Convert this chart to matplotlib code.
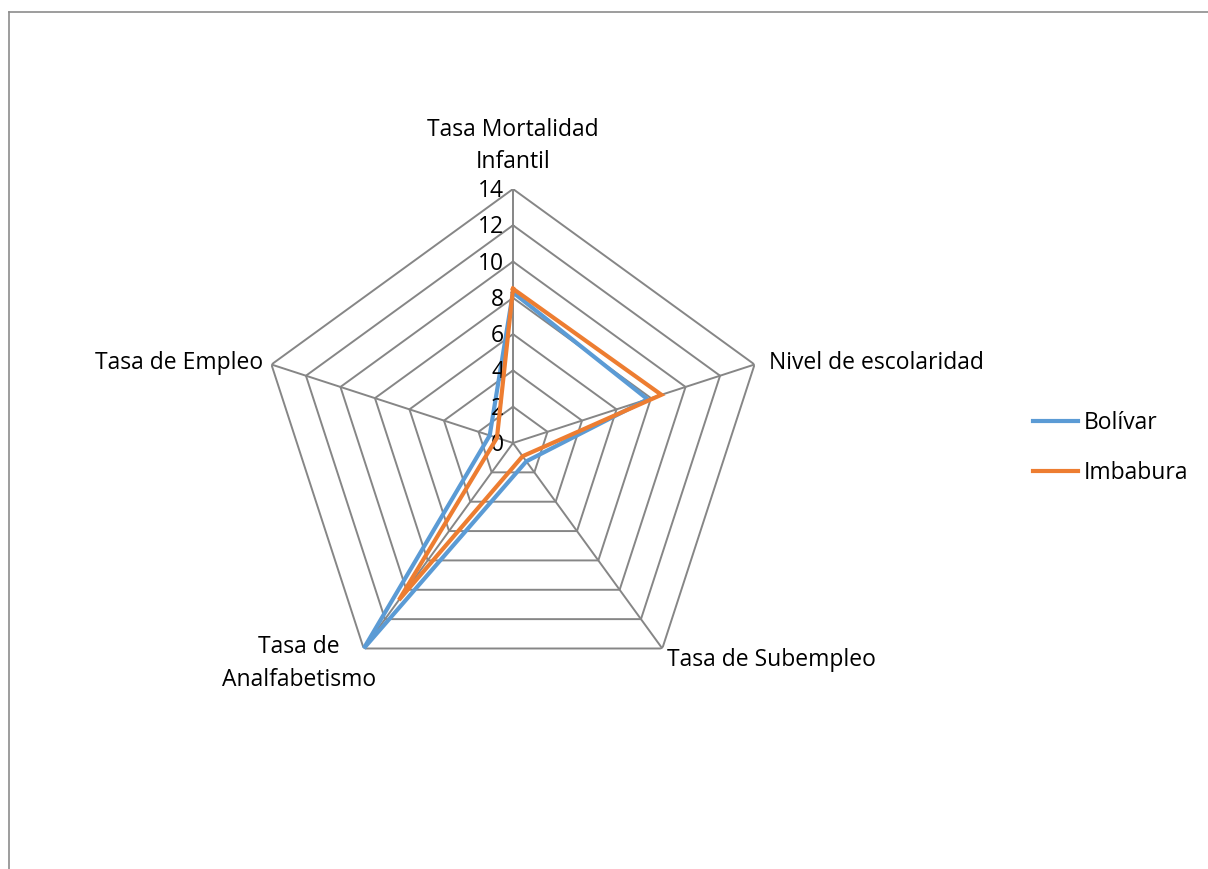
import numpy as np
import matplotlib
matplotlib.use("Agg")
import matplotlib.pyplot as plt
from matplotlib.lines import Line2D
from matplotlib.transforms import offset_copy

categories = ["Tasa Mortalidad\nInfantil", "Nivel de escolaridad", "Tasa de Subempleo",
              "Tasa de\nAnalfabetismo", "Tasa de Empleo"]
bolivar = [8.3, 7.8, 1.25, 14.0, 1.35]
imbabura = [8.5, 8.6, 0.9, 10.7, 0.93]
series_names = ["Bolívar", "Imbabura"]
r_ticks = [0, 2, 4, 6, 8, 10, 12, 14]

plt.rcParams['font.family'] = ['Open Sans', 'DejaVu Sans']

W, H = 1208, 869
fig = plt.figure(figsize=(W / 100, H / 100), dpi=100)
cx, cy, R = 513, 443, 254
ax = fig.add_axes([(cx - R) / W, (H - cy - R) / H, 2 * R / W, 2 * R / H], projection='polar')
ax.set_theta_offset(np.pi / 2)
ax.set_theta_direction(-1)
ax.set_ylim(0, 14)
ax.grid(False)
ax.spines['polar'].set_visible(False)
ax.set_xticks([])
ax.set_yticks([])
ax.patch.set_alpha(0)

n = len(categories)
theta = np.linspace(0, 2 * np.pi, n, endpoint=False)
gc = '#868686'
for r in r_ticks[1:]:
    ax.plot(np.append(theta, theta[0]), [r] * (n + 1), color=gc, lw=1.4, zorder=1)
for t in theta:
    ax.plot([t, t], [0, 14], color=gc, lw=1.4, zorder=1)

ax.plot(np.append(theta, theta[0]), bolivar + [bolivar[0]], color='#5B9BD5', lw=3.0,
        label=series_names[0], zorder=3, solid_joinstyle='miter')
ax.plot(np.append(theta, theta[0]), imbabura + [imbabura[0]], color='#ED7D31', lw=3.0,
        label=series_names[1], zorder=4, solid_joinstyle='miter')

fs = 16.5
tr = offset_copy(ax.transData, fig=fig, x=-9, y=-2, units='dots')
for r in r_ticks:
    ax.text(0, r, str(r), transform=tr, ha='right', va='center', fontsize=fs, color='#000000')

ax.text(theta[0], 14, categories[0], transform=offset_copy(ax.transData, fig=fig, x=0, y=15, units='dots'),
        ha='center', va='bottom', fontsize=fs, linespacing=1.45)
ax.text(theta[1], 14, categories[1], transform=offset_copy(ax.transData, fig=fig, x=14, y=2, units='dots'),
        ha='left', va='center', fontsize=fs)
ax.text(theta[2], 14, categories[2], transform=offset_copy(ax.transData, fig=fig, x=5, y=-12, units='dots'),
        ha='left', va='center', fontsize=fs)
ax.text(theta[3], 14, categories[3], transform=offset_copy(ax.transData, fig=fig, x=-65, y=-15, units='dots'),
        ha='center', va='center', fontsize=fs, linespacing=1.45)
ax.text(theta[4], 14, categories[4], transform=offset_copy(ax.transData, fig=fig, x=-8, y=2, units='dots'),
        ha='right', va='center', fontsize=fs)

leg = fig.legend(loc='center left', bbox_to_anchor=(1012 / W, 1 - 448 / H), frameon=False,
                 fontsize=fs, handlelength=2.0, handletextpad=0.25, labelspacing=1.15)

# chart frame
fig.add_artist(Line2D([9 / W, 9 / W], [0, 1 - 12 / H], transform=fig.transFigure, color='#8c8c8c', lw=1.2))
fig.add_artist(Line2D([9 / W, 1], [1 - 12 / H, 1 - 12 / H], transform=fig.transFigure, color='#8c8c8c', lw=1.2))

fig.savefig('out.png', dpi=100, facecolor='white')
